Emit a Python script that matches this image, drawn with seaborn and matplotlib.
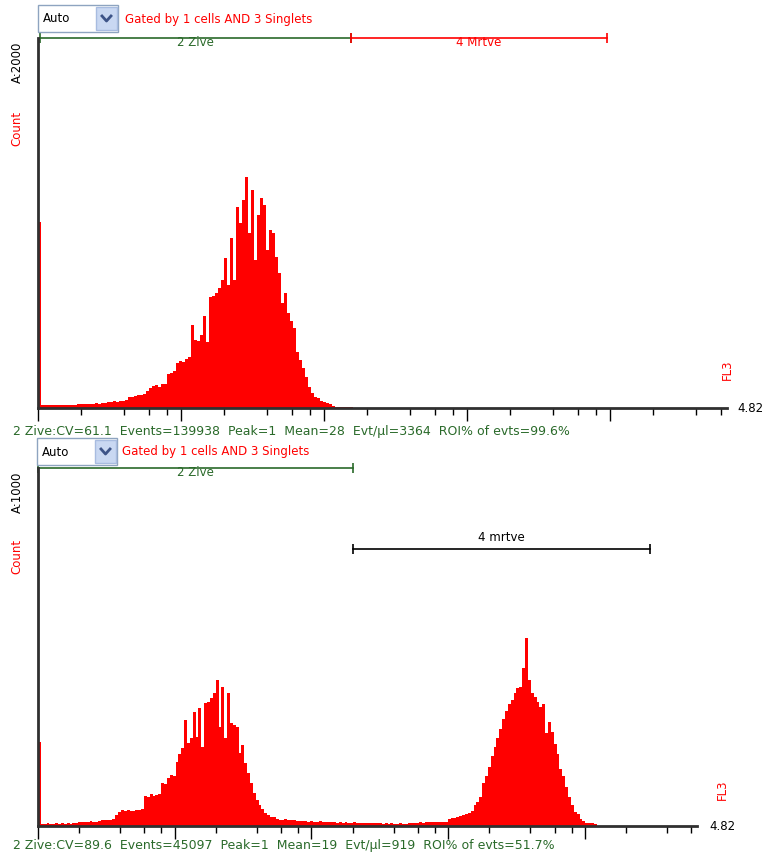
import numpy as np
import pandas as pd
import matplotlib
matplotlib.use("Agg")
import matplotlib.pyplot as plt
from matplotlib.patches import Rectangle
from matplotlib.lines import Line2D
from matplotlib.ticker import LogLocator, NullFormatter
from matplotlib.transforms import blended_transform_factory
import seaborn as sns

W, H = 765, 859

# log10 range of the FL3 axis and channel width (log10 units)
x_decades = 4.82
bin_width = 4.82 / 230

# counts per channel, first histogram (scale A:2000)
counts_top = [
    1005,
    15, 17, 14, 16, 18, 15, 17, 16, 14, 18, 16, 17, 19,
    22, 24, 21, 23, 22, 25, 23, 26, 28,
    34, 33, 36, 35, 38, 36, 45,
    62, 58, 66, 70, 68, 78, 92,
    110, 118, 125, 115, 128, 130,
    185, 190, 200,
    245, 255, 250, 265, 275,
    450, 370, 360, 395, 495, 356,
    600, 605, 620, 650, 690, 810, 665, 920, 690,
    1085, 1000, 1125, 1250, 945, 1180, 800, 1045, 1135, 1100, 855, 960, 945, 815, 730,
    567, 620, 513, 470, 432, 302, 260, 216, 168, 113, 81, 60, 54, 40, 30, 27, 22,
    12, 8, 6, 5, 8, 4, 3,
]

# counts per channel, second histogram (scale A:1000)
counts_bottom = [
    235,
    6, 5, 7, 6, 5, 7, 6, 8, 6, 7, 5, 7, 8,
    11, 10, 12, 11, 13, 10, 12, 14,
    17, 16, 18, 17, 19, 31,
    40, 44, 41, 45, 43, 42, 46, 44, 48,
    85, 82, 88, 84, 86, 90,
    120, 118, 135, 142, 140,
    180, 200, 218, 296, 232, 246, 318, 249, 330, 220,
    343, 345, 357, 371, 408, 276, 388, 246, 371, 288, 282, 276, 204, 226,
    176, 148, 120, 92, 73, 60, 48, 36, 30, 25, 24, 20,
    18, 17, 19, 16, 17, 18, 15,
    14, 13, 15, 12, 13, 11, 12, 13, 10, 11, 12, 10, 11, 9,
    10, 9, 11, 8, 9, 10, 8, 9, 7, 8, 9, 7, 8, 8,
    7, 6, 8, 6, 7, 6, 5, 7, 6, 6, 7, 8, 7, 9,
    10, 9, 11, 10, 12, 10, 11,
    11, 12, 11, 20, 22, 21, 24, 29, 31, 33, 36,
    42, 59, 66, 81, 120, 140, 165, 195, 220, 245, 270, 300, 322, 340, 352, 372, 385, 388, 440, 525,
    408, 371, 360, 345, 332, 340, 260, 290, 262, 230, 200, 160, 140, 109, 81, 59, 40, 34, 20, 15,
    9, 8, 7, 5,
]

ymax_top = 2000
ymax_bottom = 1000

# gates: label, start, end (FL3 units)
gate_names_top = ["2 Zive", "4 Mrtve"]
gate_lo_top = [1.03, 155]
gate_hi_top = [155, 9530]
gate_names_bottom = ["2 Zive", "4 mrtve"]
gate_lo_bottom = [1.0, 201]
gate_hi_bottom = [201, 30000]

stats_top = "2 Zive:CV=61.1  Events=139938  Peak=1  Mean=28  Evt/µl=3364  ROI% of evts=99.6%"
stats_bottom = "2 Zive:CV=89.6  Events=45097  Peak=1  Mean=19  Evt/µl=919  ROI% of evts=51.7%"
gate_text = "Gated by 1 cells AND 3 Singlets"

GREEN = "#2a6a2a"
RED = "#ff0000"

plt.rcParams['font.family'] = ['DejaVu Sans']
fig = plt.figure(figsize=(W / 100, H / 100), dpi=100)
fig.patch.set_facecolor("white")


def fx(px):
    return px / W


def fy(py):
    return 1 - py / H


def dropdown(x0, y0):
    # the "Auto" combo box above each plot
    fig.add_artist(Rectangle((fx(x0), fy(y0 + 27)), 80 / W, 27 / H, transform=fig.transFigure,
                             fc="white", ec="#8ea4c0", lw=1))
    fig.add_artist(Rectangle((fx(x0 + 58), fy(y0 + 25)), 21 / W, 23 / H, transform=fig.transFigure,
                             fc="#c9d8f2", ec="#a8bce0", lw=1))
    fig.add_artist(Line2D([fx(x0 + 64), fx(x0 + 68.5), fx(x0 + 73)],
                          [fy(y0 + 11), fy(y0 + 16), fy(y0 + 11)],
                          transform=fig.transFigure, color="#3d5488", lw=2))
    fig.text(fx(x0 + 5), fy(y0 + 14), "Auto", fontsize=8.5, color="black", va="center")


def panel(top, bottom, right, counts, ymax, names, lo, hi, gate_y, gate_colors, label_dy):
    ax = fig.add_axes([fx(38), fy(bottom), fx(right) - fx(38), (bottom - top) / H])
    n = len(counts)
    df = pd.DataFrame({"fl3": 10 ** ((np.arange(n) + 0.5) * bin_width), "count": counts})
    sns.histplot(data=df, x="fl3", weights="count", bins=n, binrange=(0, n * bin_width),
                 log_scale=True, color=RED, alpha=1, linewidth=0, ax=ax)
    ax.set_xlim(1, 10 ** x_decades)
    ax.set_ylim(0, ymax)
    ax.set_xlabel("")
    ax.set_ylabel("")
    ax.set_facecolor("white")
    for s in ["top", "right"]:
        ax.spines[s].set_visible(False)
    for s in ["left", "bottom"]:
        ax.spines[s].set_color("#303030")
        ax.spines[s].set_linewidth(2)
    ax.xaxis.set_major_locator(LogLocator(base=10, numticks=12))
    ax.xaxis.set_minor_locator(LogLocator(base=10, subs=(2, 4, 6, 8), numticks=12))
    ax.xaxis.set_major_formatter(NullFormatter())
    ax.xaxis.set_minor_formatter(NullFormatter())
    ax.tick_params(axis="x", which="major", length=9, width=1, color="black", direction="out")
    ax.tick_params(axis="x", which="minor", length=5, width=1, color="black", direction="out")
    ax.tick_params(axis="y", left=False, labelleft=False)

    trans = blended_transform_factory(ax.transData, ax.transAxes)
    for name, a, b, gy, c, dy in zip(names, lo, hi, gate_y, gate_colors, label_dy):
        ax.plot([a, b], [gy, gy], color=c, lw=1.2, transform=trans, clip_on=False)
        ax.plot([a, b], [gy, gy], ls="none", marker="|", ms=7, mew=1.2, color=c,
                transform=trans, clip_on=False)
        ax.annotate(name, xy=(np.sqrt(a * b), gy), xycoords=trans, xytext=(0, dy),
                    textcoords="offset points", ha="center", va="center",
                    fontsize=8.5, color=c)
    return ax


# top plot
dropdown(38, 5)
fig.text(fx(125), fy(20), gate_text, color=RED, fontsize=8.5, va="center")
panel(38, 408, 727, counts_top, ymax_top, gate_names_top, gate_lo_top, gate_hi_top,
      [1.0, 1.0], [GREEN, RED], [-3.6, -3.6])
fig.text(fx(17), fy(62), "A:2000", rotation=90, fontsize=8.5, ha="center", va="center")
fig.text(fx(17), fy(128), "Count", rotation=90, fontsize=8.5, color=RED, ha="center", va="center")
fig.text(fx(727), fy(370), "FL3", rotation=90, fontsize=8.5, color=RED, ha="center", va="center")
fig.text(fx(737), fy(409), "4.82", fontsize=8.5, va="center")
fig.text(fx(13), fy(431), stats_top, fontsize=9, color=GREEN, va="center")

# bottom plot
dropdown(37, 438)
fig.text(fx(122), fy(452), gate_text, color=RED, fontsize=8.5, va="center")
panel(468, 826, 697, counts_bottom, ymax_bottom, gate_names_bottom, gate_lo_bottom, gate_hi_bottom,
      [1.0, (826 - 549) / 358], [GREEN, "black"], [-3.6, 8.6])
fig.text(fx(17), fy(492), "A:1000", rotation=90, fontsize=8.5, ha="center", va="center")
fig.text(fx(17), fy(556), "Count", rotation=90, fontsize=8.5, color=RED, ha="center", va="center")
fig.text(fx(722), fy(790), "FL3", rotation=90, fontsize=8.5, color=RED, ha="center", va="center")
fig.text(fx(709), fy(826), "4.82", fontsize=8.5, va="center")
fig.text(fx(13), fy(846), stats_bottom, fontsize=9, color=GREEN, va="center")

fig.savefig("out.png", dpi=100)
